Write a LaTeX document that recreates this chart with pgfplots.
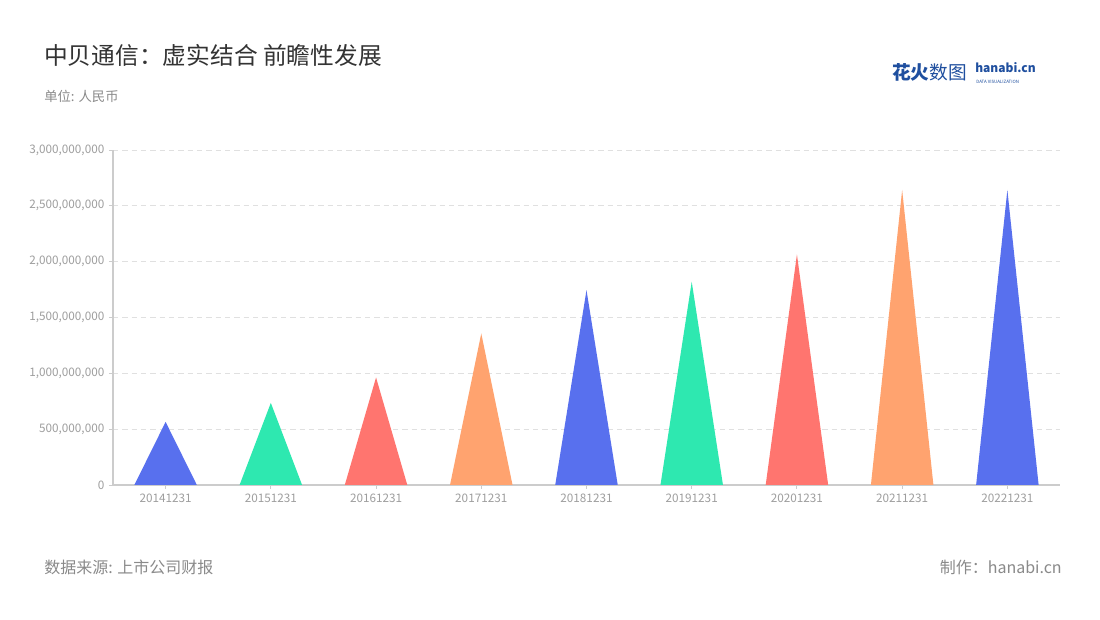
\documentclass[border=0pt]{standalone}
\usepackage{pgfplots}
\pgfplotsset{compat=1.18}
\usepackage{fontspec}
\setmainfont{Noto Sans CJK SC}
\definecolor{cblue}{HTML}{5870EE}
\definecolor{cgreen}{HTML}{2EE8B0}
\definecolor{cred}{HTML}{FF756F}
\definecolor{corange}{HTML}{FFA36F}
\definecolor{titlec}{HTML}{333333}
\definecolor{subc}{HTML}{8A8A8A}
\definecolor{tickc}{HTML}{9E9E9E}
\definecolor{axc}{HTML}{CCCCCC}
\definecolor{gridc}{HTML}{E0E0E0}
\definecolor{logoc}{HTML}{1F4F9F}
\begin{document}
\begin{tikzpicture}[x=0.75pt,y=0.75pt]
\path[use as bounding box, fill=white] (0,0) rectangle (1100,620);
\node[anchor=west, inner sep=0, text=titlec, font=\fontsize{17.8}{20}\selectfont] at (44,565) {中贝通信：虚实结合 前瞻性发展};
\node[anchor=west, inner sep=0, text=subc, font=\fontsize{10}{12}\selectfont] at (44,524) {单位: 人民币};
\node[anchor=west, inner sep=0, text=subc, font=\fontsize{12}{14}\selectfont] at (44,53) {数据来源: 上市公司财报};
\node[anchor=east, inner sep=0, text=subc, font=\fontsize{12}{14}\selectfont] at (1062,53) {制作：hanabi.cn};
\node[anchor=west, inner sep=0, text=logoc, font=\fontsize{14}{16}\selectfont] at (892,548) {\textbf{花火}数图};
\node[anchor=base west, inner sep=0, text=logoc, font=\bfseries\fontsize{9}{10}\selectfont] at (975,547) {hanabi.cn};
\node[anchor=base west, inner sep=0, text=logoc, font=\fontsize{3.3}{4}\selectfont] at (976,536) {DATA VISUALIZATION};
\begin{axis}[
  at={(84.75pt,101.25pt)}, anchor=south west,
  scale only axis, width=710.25pt, height=251.25pt,
  xmin=-0.5, xmax=8.5, ymin=0, ymax=3000000000,
  enlargelimits=false,
  axis x line*=bottom, axis y line*=left,
  axis line style={draw=axc, line width=0.9pt},
  xtick={0,...,8},
  xticklabels={20141231,20151231,20161231,20171231,20181231,20191231,20201231,20211231,20221231},
  ytick={0,500000000,1000000000,1500000000,2000000000,2500000000,3000000000},
  scaled y ticks=false,
  yticklabel style={/pgf/number format/.cd, fixed, precision=0, 1000 sep={,}, assume math mode=true},
  ticklabel style={text=tickc, font=\fontsize{8.8}{10}\selectfont},
  tick align=outside, major tick length=3pt,
  tick style={draw=axc, line width=0.7pt},
  ymajorgrids, grid style={draw=gridc, dashed, dash pattern=on 4pt off 3pt, line width=0.6pt},
]
\addplot[draw=none, fill=cblue]   coordinates {(-0.297,0) (0,565000000) (0.297,0)} \closedcycle;
\addplot[draw=none, fill=cgreen]  coordinates {(0.703,0) (1,735000000) (1.297,0)} \closedcycle;
\addplot[draw=none, fill=cred]    coordinates {(1.703,0) (2,963000000) (2.297,0)} \closedcycle;
\addplot[draw=none, fill=corange] coordinates {(2.703,0) (3,1357000000) (3.297,0)} \closedcycle;
\addplot[draw=none, fill=cblue]   coordinates {(3.703,0) (4,1745000000) (4.297,0)} \closedcycle;
\addplot[draw=none, fill=cgreen]  coordinates {(4.703,0) (5,1820000000) (5.297,0)} \closedcycle;
\addplot[draw=none, fill=cred]    coordinates {(5.703,0) (6,2065000000) (6.297,0)} \closedcycle;
\addplot[draw=none, fill=corange] coordinates {(6.703,0) (7,2642000000) (7.297,0)} \closedcycle;
\addplot[draw=none, fill=cblue]   coordinates {(7.703,0) (8,2642000000) (8.297,0)} \closedcycle;
\end{axis}
\end{tikzpicture}
\end{document}
